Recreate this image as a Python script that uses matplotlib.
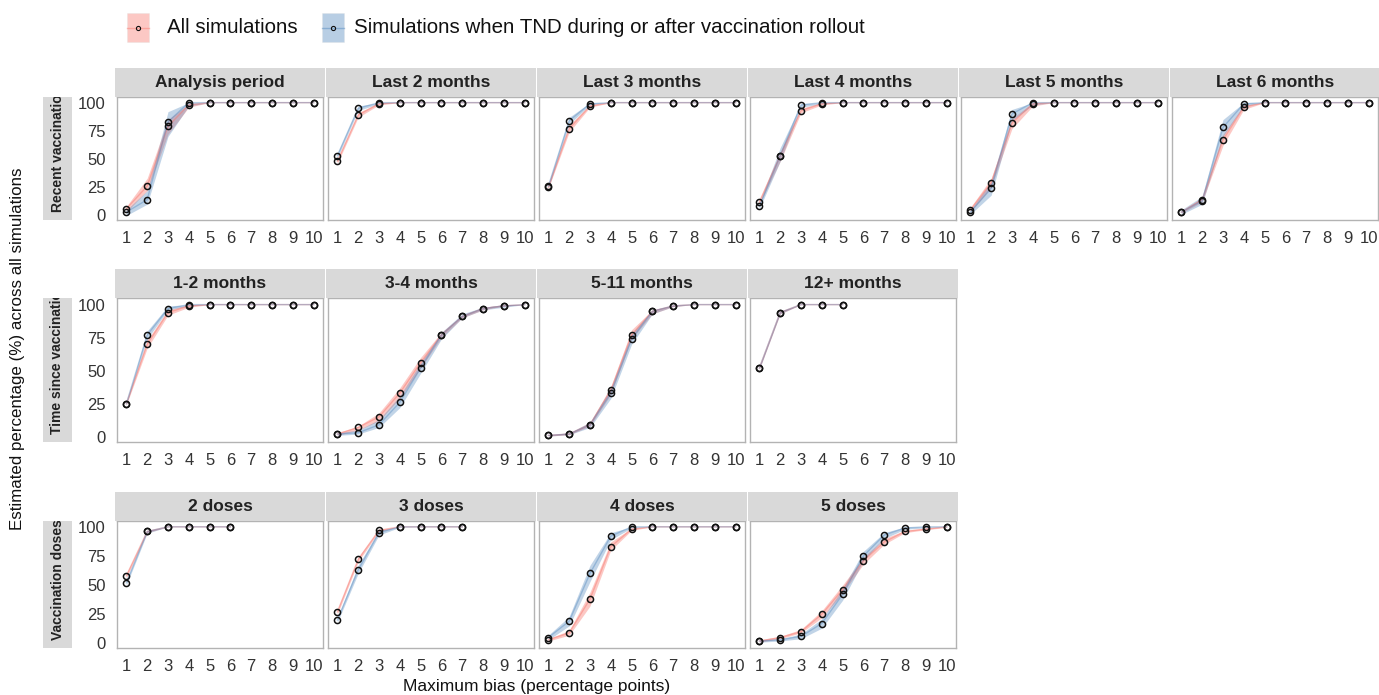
import numpy as np
import matplotlib
matplotlib.use("Agg")
import matplotlib.pyplot as plt
from matplotlib.patches import Rectangle
from matplotlib.lines import Line2D

plt.rcParams['font.family'] = ['Liberation Sans', 'DejaVu Sans']

# facet layout
row_labels = ["Recent vaccination", "Time since vaccination", "Vaccination doses"]
rows = [
    ["Analysis period", "Last 2 months", "Last 3 months", "Last 4 months", "Last 5 months", "Last 6 months"],
    ["1-2 months", "3-4 months", "5-11 months", "12+ months"],
    ["2 doses", "3 doses", "4 doses", "5 doses"],
]
x_ticks = [1, 2, 3, 4, 5, 6, 7, 8, 9, 10]
y_ticks = [0, 25, 50, 75, 100]

# All simulations: point estimates and ribbon
all_pts = {
    "Analysis period": [6, 26, 79, 98, 100, 100, 100, 100, 100, 100],
    "Last 2 months": [48, 89, 99, 100, 100, 100, 100, 100, 100, 100],
    "Last 3 months": [25, 77, 97, 100, 100, 100, 100, 100, 100, 100],
    "Last 4 months": [12, 53, 93, 99, 100, 100, 100, 100, 100, 100],
    "Last 5 months": [5, 29, 82, 99, 100, 100, 100, 100, 100, 100],
    "Last 6 months": [3, 14, 67, 96, 100, 100, 100, 100, 100, 100],
    "1-2 months": [25, 70, 94, 99, 100, 100, 100, 100, 100, 100],
    "3-4 months": [2, 7, 15, 33, 56, 77, 91, 97, 99, 100],
    "5-11 months": [1, 2, 9, 35, 77, 95, 99, 100, 100, 100],
    "12+ months": [52, 94, 100, 100, 100],
    "2 doses": [58, 96, 100, 100, 100, 100],
    "3 doses": [27, 72, 97, 100, 100, 100, 100],
    "4 doses": [3, 9, 38, 83, 98, 100, 100, 100, 100, 100],
    "5 doses": [2, 5, 10, 25, 46, 71, 87, 96, 98, 100],
}
all_lo = {
    "Analysis period": [3, 22, 72, 96, 100, 100, 100, 100, 100, 100],
    "Last 2 months": [46, 87, 98, 100, 100, 100, 100, 100, 100, 100],
    "Last 3 months": [24, 74, 96, 100, 100, 100, 100, 100, 100, 100],
    "Last 4 months": [10, 48, 91, 98, 100, 100, 100, 100, 100, 100],
    "Last 5 months": [3, 25, 77, 97, 100, 100, 100, 100, 100, 100],
    "Last 6 months": [2, 12, 62, 94, 100, 100, 100, 100, 100, 100],
    "1-2 months": [24, 67, 92, 98, 100, 100, 100, 100, 100, 100],
    "3-4 months": [1, 5, 12, 29, 52, 75, 90, 96, 99, 100],
    "5-11 months": [0.5, 1.5, 8, 32, 74, 93, 98.5, 100, 100, 100],
    "12+ months": [51, 93, 100, 100, 100],
    "2 doses": [56, 95, 100, 100, 100, 100],
    "3 doses": [25, 70, 96, 100, 100, 100, 100],
    "4 doses": [2, 7, 32, 80, 97, 100, 100, 100, 100, 100],
    "5 doses": [1, 4, 9, 22, 43, 68, 85, 95, 97.5, 99.5],
}
all_hi = {
    "Analysis period": [8, 33, 85, 99, 100, 100, 100, 100, 100, 100],
    "Last 2 months": [50, 91, 100, 100, 100, 100, 100, 100, 100, 100],
    "Last 3 months": [27, 80, 98, 100, 100, 100, 100, 100, 100, 100],
    "Last 4 months": [14, 56, 95, 100, 100, 100, 100, 100, 100, 100],
    "Last 5 months": [7, 33, 86, 100, 100, 100, 100, 100, 100, 100],
    "Last 6 months": [4, 16, 72, 98, 100, 100, 100, 100, 100, 100],
    "1-2 months": [26, 73, 96, 100, 100, 100, 100, 100, 100, 100],
    "3-4 months": [3, 8, 18, 37, 60, 79, 92, 98, 100, 100],
    "5-11 months": [1.5, 3, 11, 38, 81, 96, 99.5, 100, 100, 100],
    "12+ months": [53, 95, 100, 100, 100],
    "2 doses": [60, 97, 100, 100, 100, 100],
    "3 doses": [29, 74, 98, 100, 100, 100, 100],
    "4 doses": [4, 11, 44, 87, 99, 100, 100, 100, 100, 100],
    "5 doses": [3, 6, 12, 28, 50, 74, 90, 97, 99, 100],
}

# Simulations when TND during or after vaccination rollout
tnd_pts = {
    "Analysis period": [3, 14, 83, 100, 100, 100, 100, 100, 100, 100],
    "Last 2 months": [53, 95, 100, 100, 100, 100, 100, 100, 100, 100],
    "Last 3 months": [26, 84, 99, 100, 100, 100, 100, 100, 100, 100],
    "Last 4 months": [8, 53, 98, 100, 100, 100, 100, 100, 100, 100],
    "Last 5 months": [3, 24, 90, 100, 100, 100, 100, 100, 100, 100],
    "Last 6 months": [3, 13, 78, 99, 100, 100, 100, 100, 100, 100],
    "1-2 months": [25, 77, 97, 100, 100, 100, 100, 100, 100, 100],
    "3-4 months": [2, 3, 9, 26, 52, 77, 91, 97, 99, 100],
    "5-11 months": [1, 2, 9, 33, 74, 95, 99, 100, 100, 100],
    "12+ months": [52, 94, 100, 100, 100],
    "2 doses": [52, 96, 100, 100, 100, 100],
    "3 doses": [20, 63, 95, 100, 100, 100, 100],
    "4 doses": [5, 19, 60, 92, 100, 100, 100, 100, 100, 100],
    "5 doses": [2, 3, 6, 17, 42, 75, 93, 99, 100, 100],
}
tnd_lo = {
    "Analysis period": [0, 10, 70, 97, 100, 100, 100, 100, 100, 100],
    "Last 2 months": [51, 93, 99, 100, 100, 100, 100, 100, 100, 100],
    "Last 3 months": [24, 81, 98, 100, 100, 100, 100, 100, 100, 100],
    "Last 4 months": [6, 48, 96, 99, 100, 100, 100, 100, 100, 100],
    "Last 5 months": [1, 18, 84, 98, 100, 100, 100, 100, 100, 100],
    "Last 6 months": [1, 10, 70, 97, 100, 100, 100, 100, 100, 100],
    "1-2 months": [24, 74, 96, 99, 100, 100, 100, 100, 100, 100],
    "3-4 months": [1, 2, 7, 22, 48, 74, 90, 96, 98, 100],
    "5-11 months": [0.5, 1.5, 7, 29, 70, 93, 98.5, 100, 100, 100],
    "12+ months": [51, 93, 100, 100, 100],
    "2 doses": [50, 94.5, 100, 100, 100, 100],
    "3 doses": [18, 60, 93, 99.5, 100, 100, 100],
    "4 doses": [3, 15, 53, 89, 99, 100, 100, 100, 100, 100],
    "5 doses": [1, 2, 4, 13, 37, 71, 90, 98, 99, 100],
}
tnd_hi = {
    "Analysis period": [5, 22, 92, 100, 100, 100, 100, 100, 100, 100],
    "Last 2 months": [55, 97, 100, 100, 100, 100, 100, 100, 100, 100],
    "Last 3 months": [28, 87, 100, 100, 100, 100, 100, 100, 100, 100],
    "Last 4 months": [11, 60, 99, 100, 100, 100, 100, 100, 100, 100],
    "Last 5 months": [5, 30, 94, 100, 100, 100, 100, 100, 100, 100],
    "Last 6 months": [5, 17, 85, 100, 100, 100, 100, 100, 100, 100],
    "1-2 months": [26, 80, 99, 100, 100, 100, 100, 100, 100, 100],
    "3-4 months": [3, 5, 13, 31, 56, 79, 93, 98, 100, 100],
    "5-11 months": [1.5, 3, 11, 37, 78, 96, 99.5, 100, 100, 100],
    "12+ months": [53, 95, 100, 100, 100],
    "2 doses": [54, 97, 100, 100, 100, 100],
    "3 doses": [22, 67, 97, 100, 100, 100, 100],
    "4 doses": [7, 23, 67, 95, 100, 100, 100, 100, 100, 100],
    "5 doses": [3, 4, 8, 21, 47, 79, 95, 100, 100, 100],
}

W, H = 1379, 695
fig = plt.figure(figsize=(W / 100, H / 100), dpi=100)

def fbox(l, t, w, h):
    # pixel box (top-left origin) -> figure fraction
    return [l / W, 1 - (t + h) / H, w / W, h / H]

pink = '#F8766D'
blue = '#4F86BD'
col_left = [117, 328, 539, 750, 961, 1172]
pan_w = 206
row_top = [97, 298, 521]
row_h = [123, 144, 127]
strip_h = 29

for r, titles in enumerate(rows):
    # row strip on the left
    rl, rt, rw, rh = fbox(43, row_top[r], 29, row_h[r])
    rect = Rectangle((rl, rt), rw, rh, transform=fig.transFigure, facecolor='#D9D9D9', edgecolor='none')
    fig.patches.append(rect)
    t = fig.text((43 + 14.5) / W, 1 - (row_top[r] + row_h[r] - 8) / H, row_labels[r],
                 rotation=90, ha='center', va='bottom', fontsize=10, fontweight='bold', color='#222222')
    t.set_clip_path(rect)

    for c, name in enumerate(titles):
        ax = fig.add_axes(fbox(col_left[c], row_top[r], pan_w, row_h[r]))
        # strip title
        sl, st, sw, sh = fbox(col_left[c] - 2, row_top[r] - strip_h, pan_w + 4, strip_h)
        fig.patches.append(Rectangle((sl, st), sw, sh, transform=fig.transFigure,
                                     facecolor='#D9D9D9', edgecolor='none'))
        fig.text(sl + sw / 2, st + sh / 2, name, ha='center', va='center',
                 fontsize=12.5, fontweight='bold', color='#222222')

        x = np.arange(1, len(all_pts[name]) + 1)
        ax.fill_between(x, all_lo[name], all_hi[name], color=pink, alpha=0.4, lw=0)
        ax.fill_between(x, tnd_lo[name], tnd_hi[name], color=blue, alpha=0.35, lw=0)
        ax.plot(x, all_pts[name], color=pink, alpha=0.45, lw=1)
        ax.plot(x, tnd_pts[name], color=blue, alpha=0.4, lw=1)
        ax.plot(x, all_pts[name], 'o', ms=4.4, mfc='none', mec='#111111', mew=1.1)
        ax.plot(x, tnd_pts[name], 'o', ms=4.4, mfc='none', mec='#111111', mew=1.1)

        ax.set_xlim(0.55, 10.45)
        ax.set_ylim(-4, 105)
        ax.set_xticks(x_ticks)
        ax.set_yticks(y_ticks)
        ax.tick_params(length=0, labelsize=12, labelcolor='#333333')
        ax.tick_params(axis='x', pad=8)
        ax.tick_params(axis='y', pad=8)
        if c > 0:
            ax.set_yticklabels([])
        for s in ax.spines.values():
            s.set_color('#B3B3B3')
            s.set_linewidth(1)

fig.text(18 / W, 1 - 349 / H, "Estimated percentage (%) across all simulations",
         rotation=90, ha='center', va='center', fontsize=12.2, color='#111111')
fig.text(537 / W, 1 - 686 / H, "Maximum bias (percentage points)",
         ha='center', va='center', fontsize=12.5, color='#111111')

# legend
leg = [("All simulations", pink, 127, 167), ("Simulations when TND during or after vaccination rollout", blue, 322, 354)]
for label, colr, kx, tx in leg:
    kl, kt, kw, kh = fbox(kx, 13, 22, 29)
    fig.patches.append(Rectangle((kl, kt), kw, kh, transform=fig.transFigure,
                                 facecolor=colr, alpha=0.4, edgecolor='#E0E0E0', lw=0.5))
    fig.lines.append(Line2D([kl, kl + kw], [kt + kh / 2] * 2, transform=fig.transFigure,
                            color=colr, alpha=0.45, lw=1))
    fig.lines.append(Line2D([kl + kw / 2], [kt + kh / 2], transform=fig.transFigure,
                            marker='o', ms=3, mfc='none', mec='#111111', mew=0.8))
    fig.text(tx / W, 1 - 27.5 / H, label, ha='left', va='center', fontsize=14.8, color='#111111')

fig.savefig("out.png", dpi=100)
